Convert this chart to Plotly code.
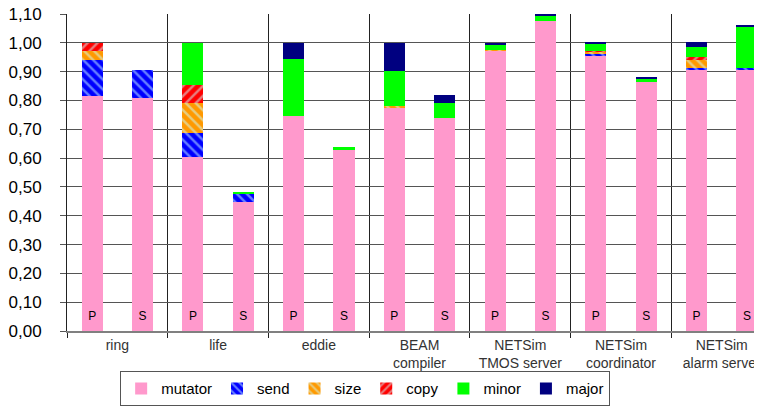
import plotly.graph_objects as go

groups = ["ring", "life", "eddie", "BEAM<br>compiler", "NETSim<br>TMOS server",
          "NETSim<br>coordinator", "NETSim<br>alarm server"]
runs = ["P", "S"]

# one value per bar: P and S for each group, in order
mutator = [0.815, 0.808, 0.604, 0.448, 0.747, 0.627, 0.776, 0.740, 0.973, 1.075, 0.957, 0.865, 0.905, 0.908]
send = [0.125, 0.097, 0.084, 0.030, 0, 0, 0, 0, 0, 0, 0.006, 0, 0.007, 0.005]
size = [0.032, 0, 0.102, 0, 0, 0, 0.006, 0, 0.003, 0, 0.006, 0, 0.028, 0]
copy = [0.028, 0, 0.062, 0, 0, 0, 0, 0, 0, 0, 0.003, 0, 0.010, 0]
minor = [0, 0, 0.148, 0.006, 0.196, 0.011, 0.120, 0.051, 0.017, 0.019, 0.023, 0.012, 0.035, 0.142]
major = [0, 0, 0, 0, 0.057, 0, 0.098, 0.027, 0.006, 0.006, 0.007, 0.004, 0.017, 0.006]

y_ticks = [round(i * 0.1, 1) for i in range(12)]

# bar positions: P left of group centre, S right
xpos = []
labels = []
for g in range(len(groups)):
    for k, r in enumerate(runs):
        xpos.append(g - 0.25 + 0.5 * k)
        labels.append(r)

stripe = "#ccffff"
series = [
    ("mutator", mutator, "#ff99cc", None),
    ("send", send, "#0000ff", "\\"),
    ("size", size, "#ff9900", "\\"),
    ("copy", copy, "#ff0000", "/"),
    ("minor", minor, "#00ff00", None),
    ("major", major, "#000080", None),
]

fig = go.Figure()
for name, vals, col, shape in series:
    marker = dict(color=col, line=dict(width=0))
    if shape:
        marker["pattern"] = dict(shape=shape, bgcolor=col, fgcolor=stripe,
                                 fillmode="overlay", size=7, solidity=0.35)
    fig.add_trace(go.Bar(x=xpos, y=vals, name=name, marker=marker, width=0.21))

fig.add_trace(go.Scatter(
    x=xpos, y=[0.05] * len(xpos), text=labels, mode="text",
    textfont=dict(size=12, color="black", family="Liberation Sans"),
    showlegend=False, hoverinfo="skip",
))

# page body adds an 8px offset, so the figure is a bit smaller than the window
fig.update_layout(
    width=754, height=400,
    barmode="stack",
    separators=",.",
    plot_bgcolor="white", paper_bgcolor="white",
    margin=dict(l=59, r=0, t=6, b=77),
    font=dict(family="Liberation Sans", color="black"),
    legend=dict(
        orientation="h", x=0.429, xanchor="center", y=-0.237, yanchor="bottom",
        bordercolor="#555555", borderwidth=1, font=dict(size=15),
        itemwidth=30, tracegroupgap=0, traceorder="normal",
    ),
)
fig.update_xaxes(
    range=[-0.5, 6.4], automargin=False,
    tickmode="array", tickvals=list(range(len(groups))), ticktext=groups,
    ticks="", showgrid=False, zeroline=False,
    tickfont=dict(size=14, color="#333333"),
    showline=True, linecolor="#808080", linewidth=2,
    minor=dict(tick0=-0.5, dtick=1, showgrid=True, gridcolor="#222222",
               gridwidth=1, ticks="outside", ticklen=5, tickcolor="#222222"),
)
fig.update_yaxes(
    range=[0, 1.1], tickvals=y_ticks, tickformat=".2f", automargin=False,
    ticklabeloverflow="allow",
    showgrid=True, gridcolor="#555555", gridwidth=1, zeroline=False,
    showline=True, linecolor="#222222", linewidth=1, mirror=True,
    ticks="outside", ticklen=6, tickcolor="#555555",
    ticklabelstandoff=15,
    tickfont=dict(size=17, color="black"),
)

fig.write_html("out.html")
